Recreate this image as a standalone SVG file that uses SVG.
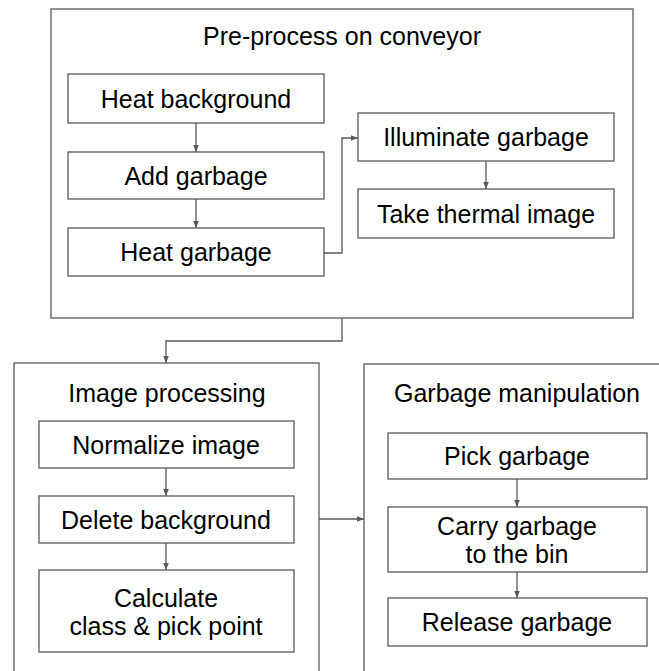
<svg xmlns="http://www.w3.org/2000/svg" width="659" height="671" viewBox="0 0 659 671">
  <style>
    .box { fill: #ffffff; stroke: #595959; stroke-width: 1.3; }
    .lbl { font-family: "Liberation Sans", Arial, sans-serif; font-size: 25px; fill: #000000; text-anchor: middle; }
    .wire { fill: none; stroke: #595959; stroke-width: 1.3; }
  </style>
  <defs>
    <marker id="arrow" viewBox="0 0 10 10" refX="10" refY="5" markerWidth="7" markerHeight="7" markerUnits="userSpaceOnUse" orient="auto">
      <path d="M0,1 L10,5 L0,9 Z" fill="#595959"/>
    </marker>
  </defs>
  <rect width="659" height="671" fill="#ffffff"/>

  <!-- Stage 1: pre-processing -->
  <g id="preprocess">
    <rect class="box" x="51" y="9" width="582" height="309"/>
    <text class="lbl" x="342" y="45">Pre-process on conveyor</text>
  </g>
  <g id="heat-background">
    <rect class="box" x="68" y="74" width="256" height="49"/>
    <text class="lbl" x="196" y="108">Heat background</text>
  </g>
  <g id="add-garbage">
    <rect class="box" x="68" y="152" width="256" height="47"/>
    <text class="lbl" x="196" y="185">Add garbage</text>
  </g>
  <g id="heat-garbage">
    <rect class="box" x="68" y="228" width="256" height="48"/>
    <text class="lbl" x="196" y="261">Heat garbage</text>
  </g>
  <g id="illuminate-garbage">
    <rect class="box" x="358" y="113" width="256" height="48"/>
    <text class="lbl" x="486" y="146">Illuminate garbage</text>
  </g>
  <g id="take-thermal-image">
    <rect class="box" x="358" y="189" width="256" height="49"/>
    <text class="lbl" x="486" y="223">Take thermal image</text>
  </g>

  <!-- Stage 2: image processing -->
  <g id="image-processing">
    <rect class="box" x="14" y="363" width="305" height="320"/>
    <text class="lbl" x="167" y="402">Image processing</text>
  </g>
  <g id="normalize-image">
    <rect class="box" x="39" y="421" width="255" height="47"/>
    <text class="lbl" x="166" y="454">Normalize image</text>
  </g>
  <g id="delete-background">
    <rect class="box" x="39" y="496" width="255" height="47"/>
    <text class="lbl" x="166" y="529">Delete background</text>
  </g>
  <g id="calculate">
    <rect class="box" x="39" y="570" width="255" height="82"/>
    <text class="lbl" x="166" y="607">Calculate</text>
    <text class="lbl" x="166" y="635">class &amp; pick point</text>
  </g>

  <!-- Stage 3: garbage manipulation -->
  <g id="garbage-manipulation">
    <rect class="box" x="364" y="364" width="310" height="320"/>
    <text class="lbl" x="517" y="402">Garbage manipulation</text>
  </g>
  <g id="pick-garbage">
    <rect class="box" x="388" y="433" width="259" height="46"/>
    <text class="lbl" x="517" y="465">Pick garbage</text>
  </g>
  <g id="carry-garbage">
    <rect class="box" x="388" y="507" width="259" height="65"/>
    <text class="lbl" x="517" y="535">Carry garbage</text>
    <text class="lbl" x="517" y="563">to the bin</text>
  </g>
  <g id="release-garbage">
    <rect class="box" x="388" y="598" width="259" height="48"/>
    <text class="lbl" x="517" y="631">Release garbage</text>
  </g>

  <!-- Connectors -->
  <g id="connectors">
    <path class="wire" d="M196,123 V152" marker-end="url(#arrow)"/>
    <path class="wire" d="M196,199 V228" marker-end="url(#arrow)"/>
    <path class="wire" d="M324,253 H342 V138 H358" marker-end="url(#arrow)"/>
    <path class="wire" d="M486,161 V189" marker-end="url(#arrow)"/>
    <path class="wire" d="M342,318 V341 H166 V363" marker-end="url(#arrow)"/>
    <path class="wire" d="M166,468 V496" marker-end="url(#arrow)"/>
    <path class="wire" d="M166,543 V570" marker-end="url(#arrow)"/>
    <path class="wire" d="M319,519 H364" marker-end="url(#arrow)"/>
    <path class="wire" d="M517,479 V507" marker-end="url(#arrow)"/>
    <path class="wire" d="M517,572 V598" marker-end="url(#arrow)"/>
  </g>
</svg>
